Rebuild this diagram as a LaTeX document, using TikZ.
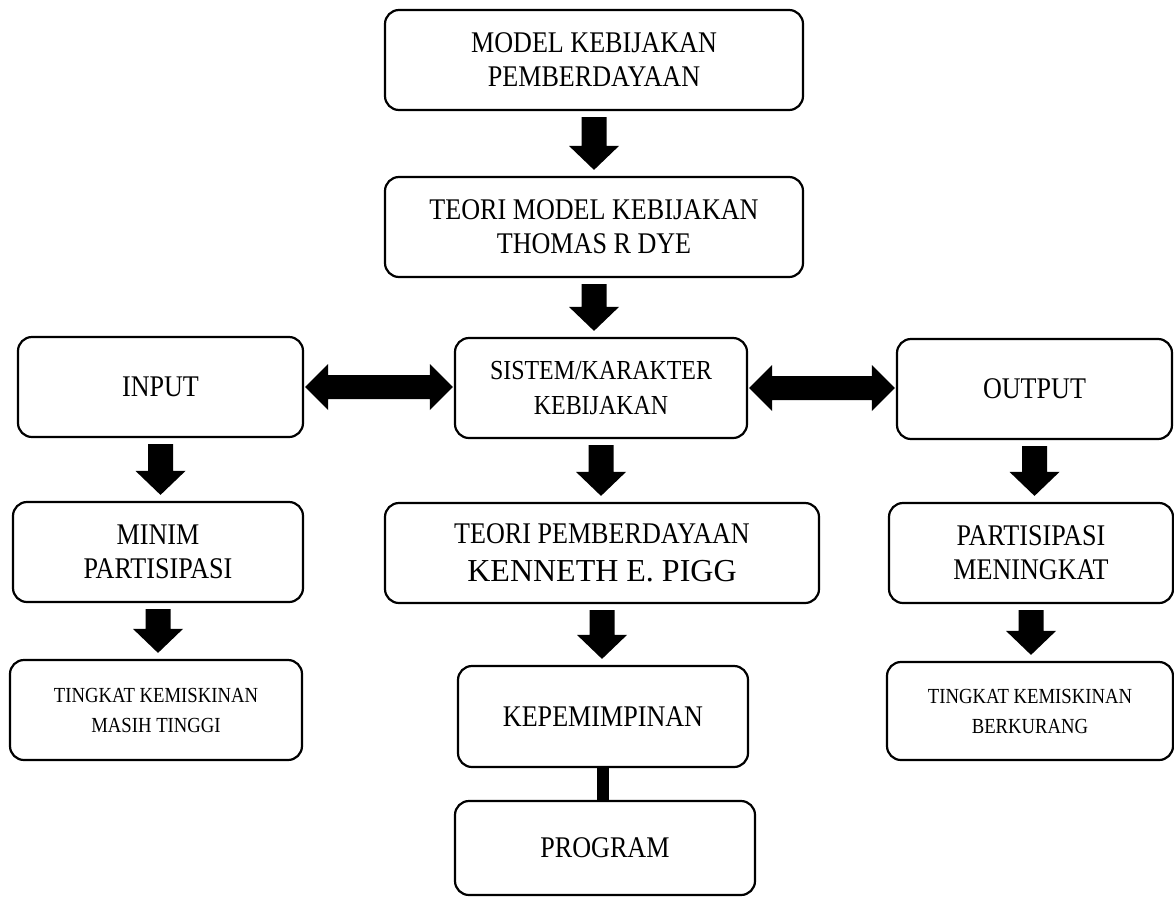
\documentclass[tikz,border=0pt]{standalone}
\usepackage{fontspec}
\setmainfont{Liberation Serif}[FakeStretch=0.87]
\newfontfamily\tnr{Liberation Serif}
\usetikzlibrary{calc}
\tikzset{
  box/.style={draw=black, line width=2.2pt, rounded corners=14pt, inner sep=0pt, align=center, text=black},
  big/.style={font=\fontsize{30}{34}\selectfont},
  mid/.style={font=\fontsize{27.5}{35}\selectfont},
  small/.style={font=\fontsize{21.5}{30}\selectfont},
  blk/.style={fill=black, draw=none},
  bar/.style={line width=12pt, draw=black}
}
% down block arrow between two named nodes
\newcommand\dnarrow[2]{%
  \fill[blk] let \p1=($(#1.south)+(0,-6pt)$), \p2=($(#2.north)+(0,6pt)$) in
    (\x1-12.5pt,\y1) -- (\x1+12.5pt,\y1) -- (\x1+12.5pt,\y2+24pt) -- (\x1+25pt,\y2+24pt)
    -- (\x1,\y2) -- (\x1-25pt,\y2+24pt) -- (\x1-12.5pt,\y2+24pt) -- cycle;}
% horizontal double block arrow between two named nodes
\newcommand\dblarrow[2]{%
  \fill[blk] let \p1=($(#1.east)+(1pt,0)$), \p2=($(#2.west)+(-1pt,0)$) in
    (\x1,\y1) -- (\x1+23pt,\y1+23pt) -- (\x1+23pt,\y1+12pt) -- (\x2-23pt,\y1+12pt)
    -- (\x2-23pt,\y1+23pt) -- (\x2,\y1) -- (\x2-23pt,\y1-23pt) -- (\x2-23pt,\y1-12pt)
    -- (\x1+23pt,\y1-12pt) -- (\x1+23pt,\y1-23pt) -- cycle;}
\begin{document}
\begin{tikzpicture}[x=1pt,y=-1pt]
\useasboundingbox (0,0) rectangle (1174,897);
\node[box,big,minimum width=418pt,minimum height=100pt] (b1) at (594,60) {MODEL KEBIJAKAN\\PEMBERDAYAAN};
\node[box,big,minimum width=418pt,minimum height=100pt] (b2) at (594,227) {TEORI MODEL KEBIJAKAN\\THOMAS R DYE};
\node[box,mid,minimum width=292pt,minimum height=100pt] (sis) at (601,388) {SISTEM/KARAKTER\\KEBIJAKAN};
\node[box,big,minimum width=285pt,minimum height=100pt] (inp) at (160.5,387) {INPUT};
\node[box,big,minimum width=275pt,minimum height=100pt] (out) at (1034.5,389) {OUTPUT};
\node[box,big,minimum width=290pt,minimum height=100pt] (min) at (158,552) {MINIM\\PARTISIPASI};
\node[box,big,minimum width=284pt,minimum height=100pt] (par) at (1031,553) {PARTISIPASI\\MENINGKAT};
\node[box,minimum width=434pt,minimum height=100pt,font=\fontsize{30}{38}\selectfont] (teo) at (602,553) {TEORI PEMBERDAYAAN\\{\tnr\fontsize{32}{38}\selectfont KENNETH E. PIGG}};
\node[box,small,minimum width=292pt,minimum height=100pt] (tkl) at (156,710) {TINGKAT KEMISKINAN\\MASIH TINGGI};
\node[box,small,minimum width=286pt,minimum height=98pt] (tkr) at (1030,711) {TINGKAT KEMISKINAN\\BERKURANG};
\node[box,big,minimum width=290pt,minimum height=101pt] (kep) at (603,716.5) {KEPEMIMPINAN};
\node[box,big,minimum width=300pt,minimum height=94pt] (prog) at (605,848) {PROGRAM};
\dnarrow{b1}{b2}
\dnarrow{b2}{sis}
\dnarrow{inp}{min}
\dnarrow{min}{tkl}
\dnarrow{sis}{teo}
\dnarrow{teo}{kep}
\dnarrow{out}{par}
\dnarrow{par}{tkr}
\dblarrow{inp}{sis}
\dblarrow{sis}{out}
\draw[bar] (kep.south) -- (kep.south |- prog.north);
\end{tikzpicture}
\end{document}
